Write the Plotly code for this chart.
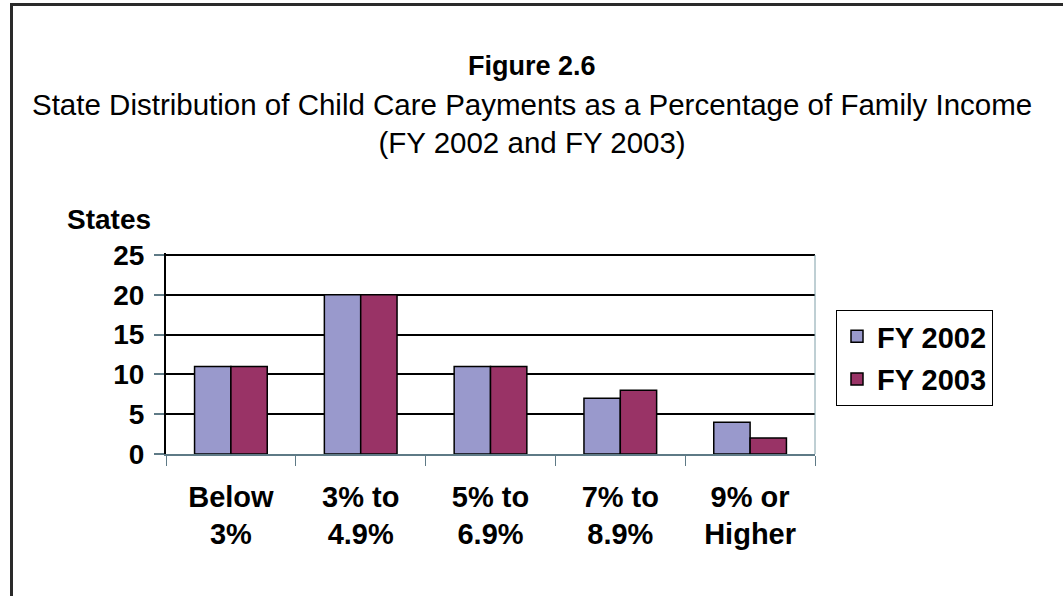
import plotly.graph_objects as go

# Chart data
categories = ["Below<br>3%", "3% to<br>4.9%", "5% to<br>6.9%", "7% to<br>8.9%", "9% or<br>Higher"]
fy2002 = [11, 20, 11, 7, 4]
fy2003 = [11, 20, 11, 8, 2]
y_ticks = [0, 5, 10, 15, 20, 25]

FONT = "Liberation Sans, Arial, sans-serif"
W, H = 1063, 596
AXIS_GREY = "#5E7A86"
Y_MAX = 25.3  # a little headroom so the gridline at 25 is drawn

fig = go.Figure()
fig.add_trace(go.Bar(
    x=categories, y=fy2002, name="FY 2002", legendgroup="a",
    marker=dict(color="#9999CC", line=dict(color="black", width=1.5)),
))
fig.add_trace(go.Bar(
    x=categories, y=fy2003, name="FY 2003", legendgroup="b",
    marker=dict(color="#993366", line=dict(color="black", width=1.5)),
))

# plot area: 0 at y=454 px, 25 at y=255 px
px_per_unit = (454 - 255) / 25
top_px = 454 - Y_MAX * px_per_unit
x0, x1 = 166 / W, 815 / W
y0, y1 = (H - 454) / H, (H - top_px) / H

fig.update_layout(
    width=W, height=H,
    margin=dict(l=0, r=0, t=0, b=0),
    paper_bgcolor="white", plot_bgcolor="white",
    font=dict(family=FONT, color="black"),
    barmode="group", bargap=0.44, bargroupgap=0,
    showlegend=True,
    legend=dict(
        x=836 / W, y=1 - 310 / H, xanchor="left", yanchor="top",
        bordercolor="black", borderwidth=1, bgcolor="white",
        font=dict(family=FONT, size=29, color="black", weight="bold"),
        tracegroupgap=2,
    ),
    xaxis=dict(
        domain=[x0, x1], automargin=False,
        showline=True, linecolor=AXIS_GREY, linewidth=1.5,
        ticks="outside", tickson="boundaries", ticklen=10,
        tickcolor=AXIS_GREY, tickwidth=1,
        tickfont=dict(family=FONT, size=29, color="black", weight="bold"),
        ticklabelstandoff=16,
        showgrid=False,
    ),
    yaxis=dict(
        domain=[y0, y1], automargin=False,
        range=[0, Y_MAX], tickvals=y_ticks,
        showline=True, linecolor="black", linewidth=2,
        ticks="outside", ticklen=10, tickcolor=AXIS_GREY, tickwidth=1.5,
        tickfont=dict(family=FONT, size=28, color="black", weight="bold"),
        ticklabelstandoff=4,
        showgrid=True, gridcolor="black", gridwidth=2,
        zeroline=False,
    ),
    annotations=[
        dict(text="<b>Figure 2.6</b>", x=0.5, y=1 - 66 / H, xref="paper", yref="paper",
             yanchor="middle", showarrow=False, font=dict(family=FONT, size=27)),
        dict(text="State Distribution of Child Care Payments as a Percentage of Family Income"
                  "<br>(FY 2002 and FY 2003)",
             x=0.5, y=1 - 123 / H, xref="paper", yref="paper", yanchor="middle",
             showarrow=False, font=dict(family=FONT, size=29.5)),
        dict(text="<b>States</b>", x=65 / W, y=1 - 219 / H, xref="paper", yref="paper",
             xanchor="left", yanchor="middle", showarrow=False, font=dict(family=FONT, size=28)),
    ],
    shapes=[
        # right edge of the plot area, from 0 up to the 25 gridline
        dict(type="line", xref="x domain", yref="y", x0=1, x1=1, y0=0, y1=25,
             line=dict(color="#7F9FA8", width=1)),
        # outer frame (top and left)
        dict(type="line", xref="paper", yref="paper", x0=10 / W, x1=1, y0=1 - 4.5 / H, y1=1 - 4.5 / H,
             line=dict(color="#2A2A2A", width=3)),
        dict(type="line", xref="paper", yref="paper", x0=11.5 / W, x1=11.5 / W, y0=0, y1=1 - 3 / H,
             line=dict(color="#2A2A2A", width=3)),
    ],
)

fig.write_html("out.html")
